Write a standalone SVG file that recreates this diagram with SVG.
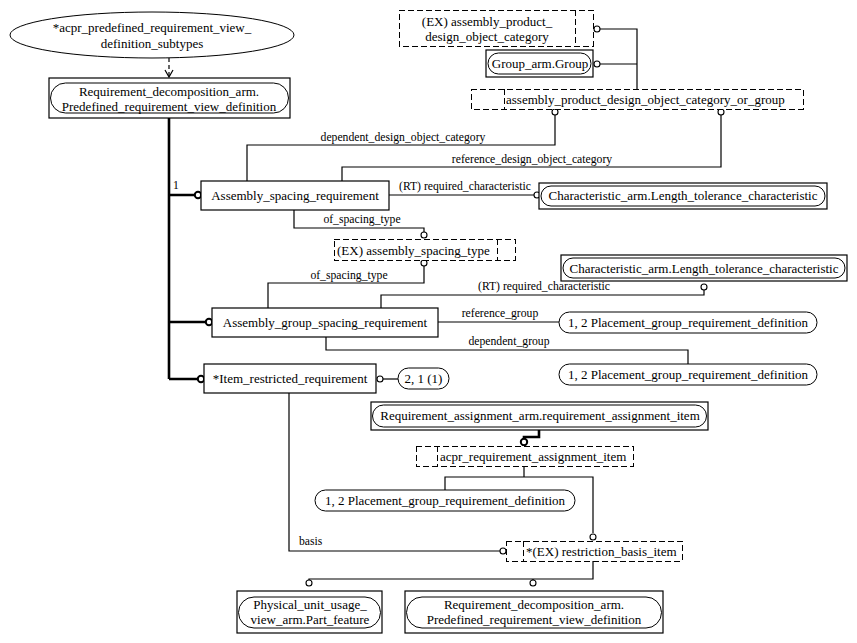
<svg xmlns="http://www.w3.org/2000/svg" width="857" height="643" viewBox="0 0 857 643">
<style>
text{font-family:"Liberation Serif","Times New Roman",serif;font-size:13px;fill:#000}
.lb{font-size:11.7px}
.m{text-anchor:middle}
.box{fill:#fff;stroke:#000;stroke-width:1.2}
.pill{fill:#fff;stroke:#000;stroke-width:1}
.dash{fill:#fff;stroke:#000;stroke-width:1;stroke-dasharray:6,3;shape-rendering:crispEdges}
.ln{fill:none;stroke:#000;stroke-width:1.2}
.thick{fill:none;stroke:#000;stroke-width:2.6}
.c{fill:#fff;stroke:#000;stroke-width:1.1}
.ct{fill:#fff;stroke:#000;stroke-width:2}
</style>
<rect width="857" height="643" fill="#fff"/>
<g id="connectors">
<path class="ln" d="M169,58 V76" stroke-dasharray="4,3"/>
<polyline class="ln" points="165,70 169,77 173,70"/>
<path class="thick" d="M169,118 V379 M169,195 H195 M169,322 H206 M169,379 H198"/>
<circle class="ct" cx="198" cy="195" r="3.2"/>
<circle class="ct" cx="209" cy="322" r="3.2"/>
<circle class="ct" cx="201" cy="379" r="3.2"/>
<text class="lb" x="173" y="189">1</text>
<path class="ln" d="M596,29 H637 V89 M597,64 H637"/>
<circle class="c" cx="597" cy="29" r="3"/>
<circle class="c" cx="597" cy="64" r="3"/>
<path class="ln" d="M247,181 V145 H555 V113"/>
<circle class="c" cx="555" cy="112" r="3"/>
<text class="lb m" x="403" y="141">dependent_design_object_category</text>
<path class="ln" d="M342,181 V167 H721 V113"/>
<circle class="c" cx="721" cy="112" r="3"/>
<text class="lb m" x="532" y="163">reference_design_object_category</text>
<path class="ln" d="M389,195 H535"/>
<circle class="c" cx="537" cy="195" r="3"/>
<text class="lb m" x="465" y="190">(RT) required_characteristic</text>
<path class="ln" d="M294,210 V228 H424 V233"/>
<circle class="c" cx="424" cy="235" r="3"/>
<text class="lb m" x="362" y="223">of_spacing_type</text>
<path class="ln" d="M424,265 V283 H268 V308"/>
<circle class="c" cx="424" cy="263" r="3"/>
<text class="lb m" x="349" y="279">of_spacing_type</text>
<path class="ln" d="M381,308 V295 H704 V290"/>
<circle class="c" cx="704" cy="287" r="3"/>
<text class="lb m" x="544" y="290">(RT) required_characteristic</text>
<path class="ln" d="M438,322 H559"/>
<text class="lb m" x="500" y="317">reference_group</text>
<path class="ln" d="M326,337 V350 H688 V364"/>
<text class="lb m" x="509" y="345">dependent_group</text>
<path class="ln" d="M383,379 H398"/>
<circle class="c" cx="380" cy="379" r="3"/>
<path class="thick" d="M539,430 V437 H524 V439"/>
<circle class="ct" cx="524" cy="442" r="3.2"/>
<path class="ln" d="M524,466 V477 M445,490 V477 H593 V533"/>
<circle class="c" cx="593" cy="537" r="3"/>
<path class="ln" d="M289,393 V551 H500"/>
<circle class="c" cx="503" cy="551" r="3"/>
<text class="lb" x="299" y="545">basis</text>
<path class="ln" d="M593,561 V579 H309 V580 M533,579 V580"/>
<circle class="c" cx="309" cy="583" r="3"/>
<circle class="c" cx="533" cy="583" r="3"/>
</g>
<g id="n_subtypes">
<ellipse cx="152" cy="35" rx="142" ry="23" fill="#fff" stroke="#000" stroke-width="1"/>
<text class="m" x="152" y="32">*acpr_predefined_requirement_view_</text>
<text class="m" x="152" y="48">definition_subtypes</text>
</g>
<g id="n_predef1">
<rect class="box" x="49" y="78" width="241" height="40"/>
<rect class="pill" x="50.5" y="83" width="238" height="30" rx="15"/>
<text class="m" x="169" y="96">Requirement_decomposition_arm.</text>
<text class="m" x="169" y="111">Predefined_requirement_view_definition</text>
</g>
<g id="n_ex_apdoc">
<rect class="dash" x="399" y="10" width="194" height="36"/>
<path class="dash" d="M575,10 V46"/>
<text class="m" x="487" y="26">(EX) assembly_product_</text>
<text class="m" x="487" y="41">design_object_category</text>
</g>
<g id="n_group">
<rect class="box" x="486" y="50" width="107" height="27"/>
<rect class="pill" x="488" y="53" width="103" height="21" rx="10.5"/>
<text class="m" x="540" y="68">Group_arm.Group</text>
</g>
<g id="n_apdoc_or_group">
<rect class="dash" x="471" y="89" width="332" height="20"/>
<path class="dash" d="M504,89 V109"/>
<text x="506" y="104">assembly_product_design_object_category_or_group</text>
</g>
<g id="n_asr">
<rect class="box" x="201" y="181" width="188" height="29"/>
<text class="m" x="295" y="200">Assembly_spacing_requirement</text>
</g>
<g id="n_char1">
<rect class="box" x="539" y="183" width="288" height="26"/>
<rect class="pill" x="541" y="186" width="284" height="20" rx="10"/>
<text class="m" x="683" y="200">Characteristic_arm.Length_tolerance_characteristic</text>
</g>
<g id="n_ex_ast">
<rect class="dash" x="334" y="239" width="181" height="21"/>
<path class="dash" d="M497,239 V260"/>
<text x="337" y="255">(EX) assembly_spacing_type</text>
</g>
<g id="n_char2">
<rect class="box" x="561" y="255" width="286" height="26"/>
<rect class="pill" x="563" y="258" width="282" height="20" rx="10"/>
<text class="m" x="704" y="273">Characteristic_arm.Length_tolerance_characteristic</text>
</g>
<g id="n_agsr">
<rect class="box" x="212" y="308" width="226" height="29"/>
<text class="m" x="325" y="327">Assembly_group_spacing_requirement</text>
</g>
<g id="n_pgrd1">
<rect class="pill" x="559" y="312" width="258" height="21" rx="10.5"/>
<text class="m" x="688" y="327">1, 2 Placement_group_requirement_definition</text>
</g>
<g id="n_pgrd2">
<rect class="pill" x="559" y="364" width="258" height="21" rx="10.5"/>
<text class="m" x="688" y="379">1, 2 Placement_group_requirement_definition</text>
</g>
<g id="n_irr">
<rect class="box" x="204" y="364" width="172" height="29"/>
<text class="m" x="290" y="383">*Item_restricted_requirement</text>
</g>
<g id="n_ref21">
<rect class="pill" x="398" y="368" width="51" height="21" rx="10.5"/>
<text class="m" x="423.5" y="383">2, 1 (1)</text>
</g>
<g id="n_rai">
<rect class="box" x="371" y="402" width="337" height="28"/>
<rect class="pill" x="372.5" y="405" width="334" height="22" rx="11"/>
<text class="m" x="540" y="420">Requirement_assignment_arm.requirement_assignment_item</text>
</g>
<g id="n_acpr_rai">
<rect class="dash" x="416" y="446" width="217" height="20"/>
<path class="dash" d="M437,446 V466"/>
<text x="440" y="461">acpr_requirement_assignment_item</text>
</g>
<g id="n_pgrd3">
<rect class="pill" x="315" y="490" width="260" height="21" rx="10.5"/>
<text class="m" x="445" y="505">1, 2 Placement_group_requirement_definition</text>
</g>
<g id="n_rbi">
<rect class="dash" x="506" y="541" width="176" height="20"/>
<path class="dash" d="M523,541 V561"/>
<text x="526" y="556">*(EX) restriction_basis_item</text>
</g>
<g id="n_part_feature">
<rect class="box" x="237" y="591" width="145" height="42"/>
<rect class="pill" x="238.5" y="597" width="142" height="31" rx="15.5"/>
<text class="m" x="310" y="609">Physical_unit_usage_</text>
<text class="m" x="310" y="624">view_arm.Part_feature</text>
</g>
<g id="n_predef2">
<rect class="box" x="405" y="591" width="258" height="42"/>
<rect class="pill" x="406.5" y="597" width="255" height="31" rx="15.5"/>
<text class="m" x="534" y="609">Requirement_decomposition_arm.</text>
<text class="m" x="534" y="624">Predefined_requirement_view_definition</text>
</g>
</svg>
